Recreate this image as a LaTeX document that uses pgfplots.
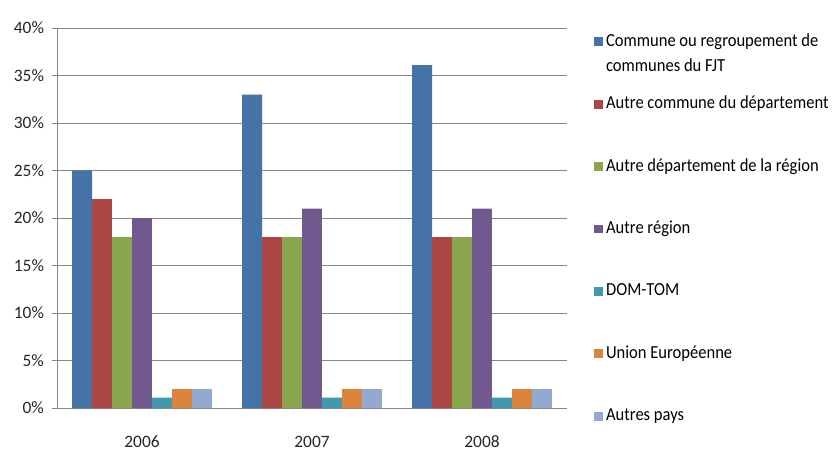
\documentclass[border=0pt]{standalone}
\usepackage{pgfplots}
\pgfplotsset{compat=1.18}
\usepackage{fontspec}
\setmainfont{Carlito}
\newfontfamily\legfont[FakeStretch=0.9]{Carlito}
\definecolor{c1}{HTML}{4572A7}
\definecolor{c2}{HTML}{AA4643}
\definecolor{c3}{HTML}{89A54E}
\definecolor{c4}{HTML}{71588F}
\definecolor{c5}{HTML}{4198AF}
\definecolor{c6}{HTML}{DB843D}
\definecolor{c7}{HTML}{93A9CF}
\definecolor{gridc}{RGB}{134,134,134}
\begin{document}
\begin{tikzpicture}
\path[use as bounding box] (0,0) rectangle (418.5pt,234pt);
\begin{axis}[
  at={(28.5pt,30pt)}, anchor=south west,
  scale only axis, width=255pt, height=190pt,
  xmin=-0.5, xmax=2.5, ymin=0, ymax=40,
  ybar, bar width=0.1176, bar shift=0pt,
  xtick={0,1,2}, xticklabels={2006,2007,2008},
  major x tick style={draw=none},
  ytick={0,5,...,40},
  yticklabel={\pgfmathprintnumber{\tick}\%},
  /pgf/number format/assume math mode=true,
  tick label style={font=\fontsize{8.7}{10}\selectfont, text=black!85},
  yticklabel style={xshift=-0.5pt},
  xticklabel style={yshift=-8pt},
  ymajorgrids, grid style={gridc, line width=0.5pt},
  axis x line*=bottom, axis y line*=left,
  axis line style={gridc, line width=0.5pt},
  y axis line style={-}, x axis line style={-},
  ytick style={gridc, line width=0.5pt},
  tick align=outside, major tick length=2.5pt,
  clip=false,
  legend cell align=left,
  legend style={draw=none, fill=none, at={(1.041,0.995)}, anchor=north west,
    font=\legfont\fontsize{9.2}{11}\selectfont, row sep=23.7pt,
    nodes={inner xsep=1.5pt, inner ysep=0pt, text height=6pt, text depth=1.5pt}},
  legend image code/.code={\fill[#1] (0pt,-2.2pt) rectangle (4.4pt,2.2pt);},
]
\addplot[fill=c1, draw=none] coordinates {(-0.3529,25) (0.6471,33) (1.6471,36.1)};
\addplot[fill=c2, draw=none] coordinates {(-0.2353,22) (0.7647,18) (1.7647,18)};
\addplot[fill=c3, draw=none] coordinates {(-0.1176,18) (0.8824,18) (1.8824,18)};
\addplot[fill=c4, draw=none] coordinates {(0,20) (1,21) (2,21)};
\addplot[fill=c5, draw=none] coordinates {(0.1176,1.1) (1.1176,1.1) (2.1176,1.1)};
\addplot[fill=c6, draw=none] coordinates {(0.2353,2) (1.2353,2) (2.2353,2)};
\addplot[fill=c7, draw=none] coordinates {(0.3529,2) (1.3529,2) (2.3529,2)};
\legend{{\smash{\begin{tabular}[t]{@{}l@{}}Commune ou regroupement de\\[1.5pt]communes du FJT\end{tabular}}},
  Autre commune du département, Autre département de la région, Autre région,
  DOM-TOM, Union Européenne, Autres pays}
\end{axis}
\end{tikzpicture}
\end{document}
